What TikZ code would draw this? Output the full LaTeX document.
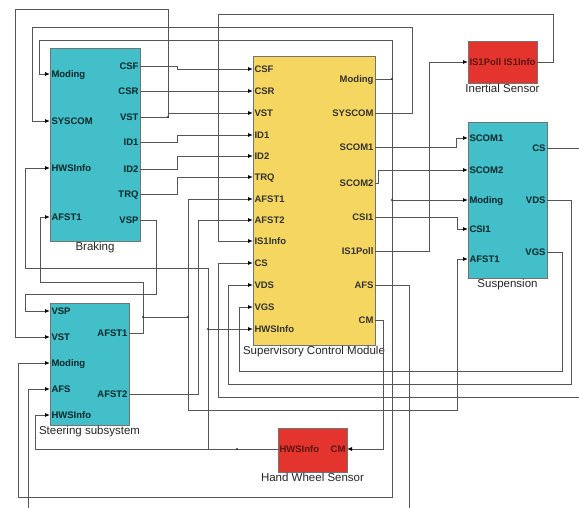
\documentclass[tikz,border=0pt]{standalone}
\usepackage{fontspec}
\setmainfont{Liberation Sans}
\usetikzlibrary{arrows.meta,positioning}
\definecolor{blkcyan}{RGB}{66,191,201}
\definecolor{blkyellow}{RGB}{245,214,96}
\definecolor{blkred}{RGB}{228,52,46}
\definecolor{wiregray}{RGB}{85,85,85}

\begin{document}
\begin{tikzpicture}[x=1pt, y=-1pt,
    blk/.style={draw=black!55, line width=0.7pt, anchor=north west, inner sep=0pt, outer sep=0pt},
    pinl/.style={anchor=west, inner xsep=1.5pt, inner ysep=0pt, outer sep=0pt,
      text height=6.8pt, text depth=0pt, font=\bfseries\fontsize{9.5}{10}\selectfont},
    pinr/.style={pinl, anchor=east},
    ttl/.style={font=\fontsize{11.5}{12}\selectfont, text=black!85, inner sep=1pt},
    wire/.style={draw=wiregray, line width=0.9pt},
    sig/.style={wire, -{Latex[length=5pt,width=4pt,color=black]}},
    jdot/.style={circle, fill=black!80, inner sep=0pt, minimum size=2.2pt},
  ]
  \useasboundingbox (0,0) rectangle (579,507);
  \fill[white] (0,0) rectangle (579,507);
  \clip (0,0) rectangle (579,507);

  % Braking
  \node[blk, fill=blkcyan, minimum width=90pt, minimum height=193pt] (brk) at (50,48) {};
  \node[ttl, below=0pt of brk] (brk-t) {Braking};
  \begin{scope}[every node/.append style={text=blkcyan!20!black}]
    \node[pinl] (brk-Moding) at (50,74) {Moding};
    \node[pinl] (brk-SYSCOM) at (50,121) {SYSCOM};
    \node[pinl] (brk-HWSInfo) at (50,168) {HWSInfo};
    \node[pinl] (brk-AFST1) at (50,217) {AFST1};
    \node[pinr] (brk-CSF) at (140,66) {CSF};
    \node[pinr] (brk-CSR) at (140,91) {CSR};
    \node[pinr] (brk-VST) at (140,117) {VST};
    \node[pinr] (brk-ID1) at (140,142) {ID1};
    \node[pinr] (brk-ID2) at (140,169) {ID2};
    \node[pinr] (brk-TRQ) at (140,194) {TRQ};
    \node[pinr] (brk-VSP) at (140,220) {VSP};
  \end{scope}

  % Supervisory Control Module
  \node[blk, fill=blkyellow, minimum width=122pt, minimum height=289pt] (scm) at (253,56) {};
  \node[ttl, below=0pt of scm] (scm-t) {Supervisory Control Module};
  \begin{scope}[every node/.append style={text=black!80}]
    \node[pinl] (scm-CSF) at (253,69) {CSF};
    \node[pinl] (scm-CSR) at (253,91) {CSR};
    \node[pinl] (scm-VST) at (253,113) {VST};
    \node[pinl] (scm-ID1) at (253,135) {ID1};
    \node[pinl] (scm-ID2) at (253,156) {ID2};
    \node[pinl] (scm-TRQ) at (253,177) {TRQ};
    \node[pinl] (scm-AFST1) at (253,199) {AFST1};
    \node[pinl] (scm-AFST2) at (253,220) {AFST2};
    \node[pinl] (scm-IS1Info) at (253,241) {IS1Info};
    \node[pinl] (scm-CS) at (253,263) {CS};
    \node[pinl] (scm-VDS) at (253,285) {VDS};
    \node[pinl] (scm-VGS) at (253,307) {VGS};
    \node[pinl] (scm-HWSInfo) at (253,329) {HWSInfo};
    \node[pinr] (scm-Moding) at (375,79) {Moding};
    \node[pinr] (scm-SYSCOM) at (375,113) {SYSCOM};
    \node[pinr] (scm-SCOM1) at (375,147) {SCOM1};
    \node[pinr] (scm-SCOM2) at (375,183) {SCOM2};
    \node[pinr] (scm-CSI1) at (375,217) {CSI1};
    \node[pinr] (scm-IS1Poll) at (375,251) {IS1Poll};
    \node[pinr] (scm-AFS) at (375,285) {AFS};
    \node[pinr] (scm-CM) at (375,320) {CM};
  \end{scope}

  % Inertial Sensor
  \node[blk, fill=blkred, minimum width=69pt, minimum height=42pt] (ins) at (468,41) {};
  \node[ttl, below=0pt of ins] (ins-t) {Inertial Sensor};
  \node[pinl, text=blkred!40!black] (ins-IS1Poll) at (468,62) {IS1Poll};
  \node[pinr, text=blkred!40!black] (ins-IS1Info) at (537,62) {IS1Info};

  % Suspension
  \node[blk, fill=blkcyan, minimum width=79pt, minimum height=156pt] (sus) at (468,122) {};
  \node[ttl, below=0pt of sus] (sus-t) {Suspension};
  \begin{scope}[every node/.append style={text=blkcyan!20!black}]
    \node[pinl] (sus-SCOM1) at (468,138) {SCOM1};
    \node[pinl] (sus-SCOM2) at (468,170) {SCOM2};
    \node[pinl] (sus-Moding) at (468,200) {Moding};
    \node[pinl] (sus-CSI1) at (468,229) {CSI1};
    \node[pinl] (sus-AFST1) at (468,259) {AFST1};
    \node[pinr] (sus-CS) at (547,148) {CS};
    \node[pinr] (sus-VDS) at (547,200) {VDS};
    \node[pinr] (sus-VGS) at (547,252) {VGS};
  \end{scope}

  % Steering subsystem
  \node[blk, fill=blkcyan, minimum width=79pt, minimum height=122pt] (str) at (50,303) {};
  \node[ttl, below=0pt of str] (str-t) {Steering subsystem};
  \begin{scope}[every node/.append style={text=blkcyan!20!black}]
    \node[pinl] (str-VSP) at (50,311) {VSP};
    \node[pinl] (str-VST) at (50,337) {VST};
    \node[pinl] (str-Moding) at (50,363) {Moding};
    \node[pinl] (str-AFS) at (50,389) {AFS};
    \node[pinl] (str-HWSInfo) at (50,415) {HWSInfo};
    \node[pinr] (str-AFST1) at (129,333) {AFST1};
    \node[pinr] (str-AFST2) at (129,394) {AFST2};
  \end{scope}

  % Hand Wheel Sensor
  \node[blk, fill=blkred, minimum width=69pt, minimum height=44pt] (hws) at (278,428) {};
  \node[ttl, below=0pt of hws] (hws-t) {Hand Wheel Sensor};
  \node[pinl, text=blkred!40!black] (hws-HWSInfo) at (278,449) {HWSInfo};
  \node[pinr, text=blkred!40!black] (hws-CM) at (347,449) {CM};

  % Braking -> Supervisory
  \draw[sig] (brk-CSF.east) -- ++(37,0) |- (scm-CSF.west);
  \draw[sig] (brk-CSR.east) -- (scm-CSR.west);
  \draw[sig] (brk-VST.east) -- ++(28,0) coordinate (vstj) |- (scm-VST.west);
  \draw[sig] (brk-ID1.east) -- ++(37,0) |- (scm-ID1.west);
  \draw[sig] (brk-ID2.east) -- ++(37,0) |- (scm-ID2.west);
  \draw[sig] (brk-TRQ.east) -- ++(37,0) |- (scm-TRQ.west);
  \draw[sig] (vstj) |- (15,9) |- (str-VST.west);
  \draw[sig] (brk-VSP.east) -| (156,294) -| (25,311) -- (str-VSP.west);

  % Supervisory -> Braking, Suspension, Steering
  \draw[sig] (scm-SYSCOM.east) -| (412,27) -| (32,121) -- (brk-SYSCOM.west);
  \draw[wire] (scm-Moding.east) -- (392,79) coordinate (modj);
  \draw[sig] (modj) |- (39,40) |- (brk-Moding.west);
  \draw[sig] (modj) |- (sus-Moding.west) coordinate[pos=0.5] (modj2);
  \draw[sig] (modj) -- (392,497) -| (18,363) -- (str-Moding.west);
  \draw[sig] (scm-SCOM1.east) -| (456,138) -- (sus-SCOM1.west);
  \draw[sig] (scm-SCOM2.east) -| (378,170) -- (sus-SCOM2.west);
  \draw[sig] (scm-CSI1.east) -| (457,229) -- (sus-CSI1.west);
  \draw[sig] (scm-IS1Poll.east) -| (429,62) -- (ins-IS1Poll.west);
  \draw[sig] (scm-AFS.east) -| (409,520) -| (28,389) -- (str-AFS.west);
  \draw[sig] (scm-CM.east) -| (383,449) -- (hws-CM.east);

  % Sensors and Suspension -> Supervisory
  \draw[sig] (ins-IS1Info.east) -| (553,14) -| (218,241) -- (scm-IS1Info.west);
  \draw[sig] (sus-CS.east) -| (590,397) -| (218,263) -- (scm-CS.west);
  \draw[sig] (sus-VDS.east) -| (571,384) -| (228,285) -- (scm-VDS.west);
  \draw[sig] (sus-VGS.east) -| (562,371) -| (239,307) -- (scm-VGS.west);
  \draw[sig] (hws-HWSInfo.west) -| (35,415) -- (str-HWSInfo.west);
  \coordinate (hwsj) at (208,449);
  \draw[sig] (hwsj) |- (scm-HWSInfo.west) coordinate[pos=0.5] (hwsj2);
  \draw[sig] (hwsj) |- (25,268) |- (brk-HWSInfo.west);

  % Steering -> Braking, Supervisory, Suspension
  \draw[sig] (str-AFST1.east) -| (143,282) -| (40,217) -- (brk-AFST1.west);
  \coordinate (afj) at (143,317);
  \draw[sig] (afj) -| (188,199) -- (scm-AFST1.west);
  \coordinate (afj2) at (188,317);
  \draw[sig] (afj2) -- (188,410) -| (457,259) -- (sus-AFST1.west);
  \draw[sig] (str-AFST2.east) -| (198,220) -- (scm-AFST2.west);

  % branch points
  \foreach \j in {vstj,modj,modj2,hwsj2,afj,afj2}
    \node[jdot] at (\j) {};
  \node[jdot] (hwsdot) at (237,449) {};
\end{tikzpicture}
\end{document}
